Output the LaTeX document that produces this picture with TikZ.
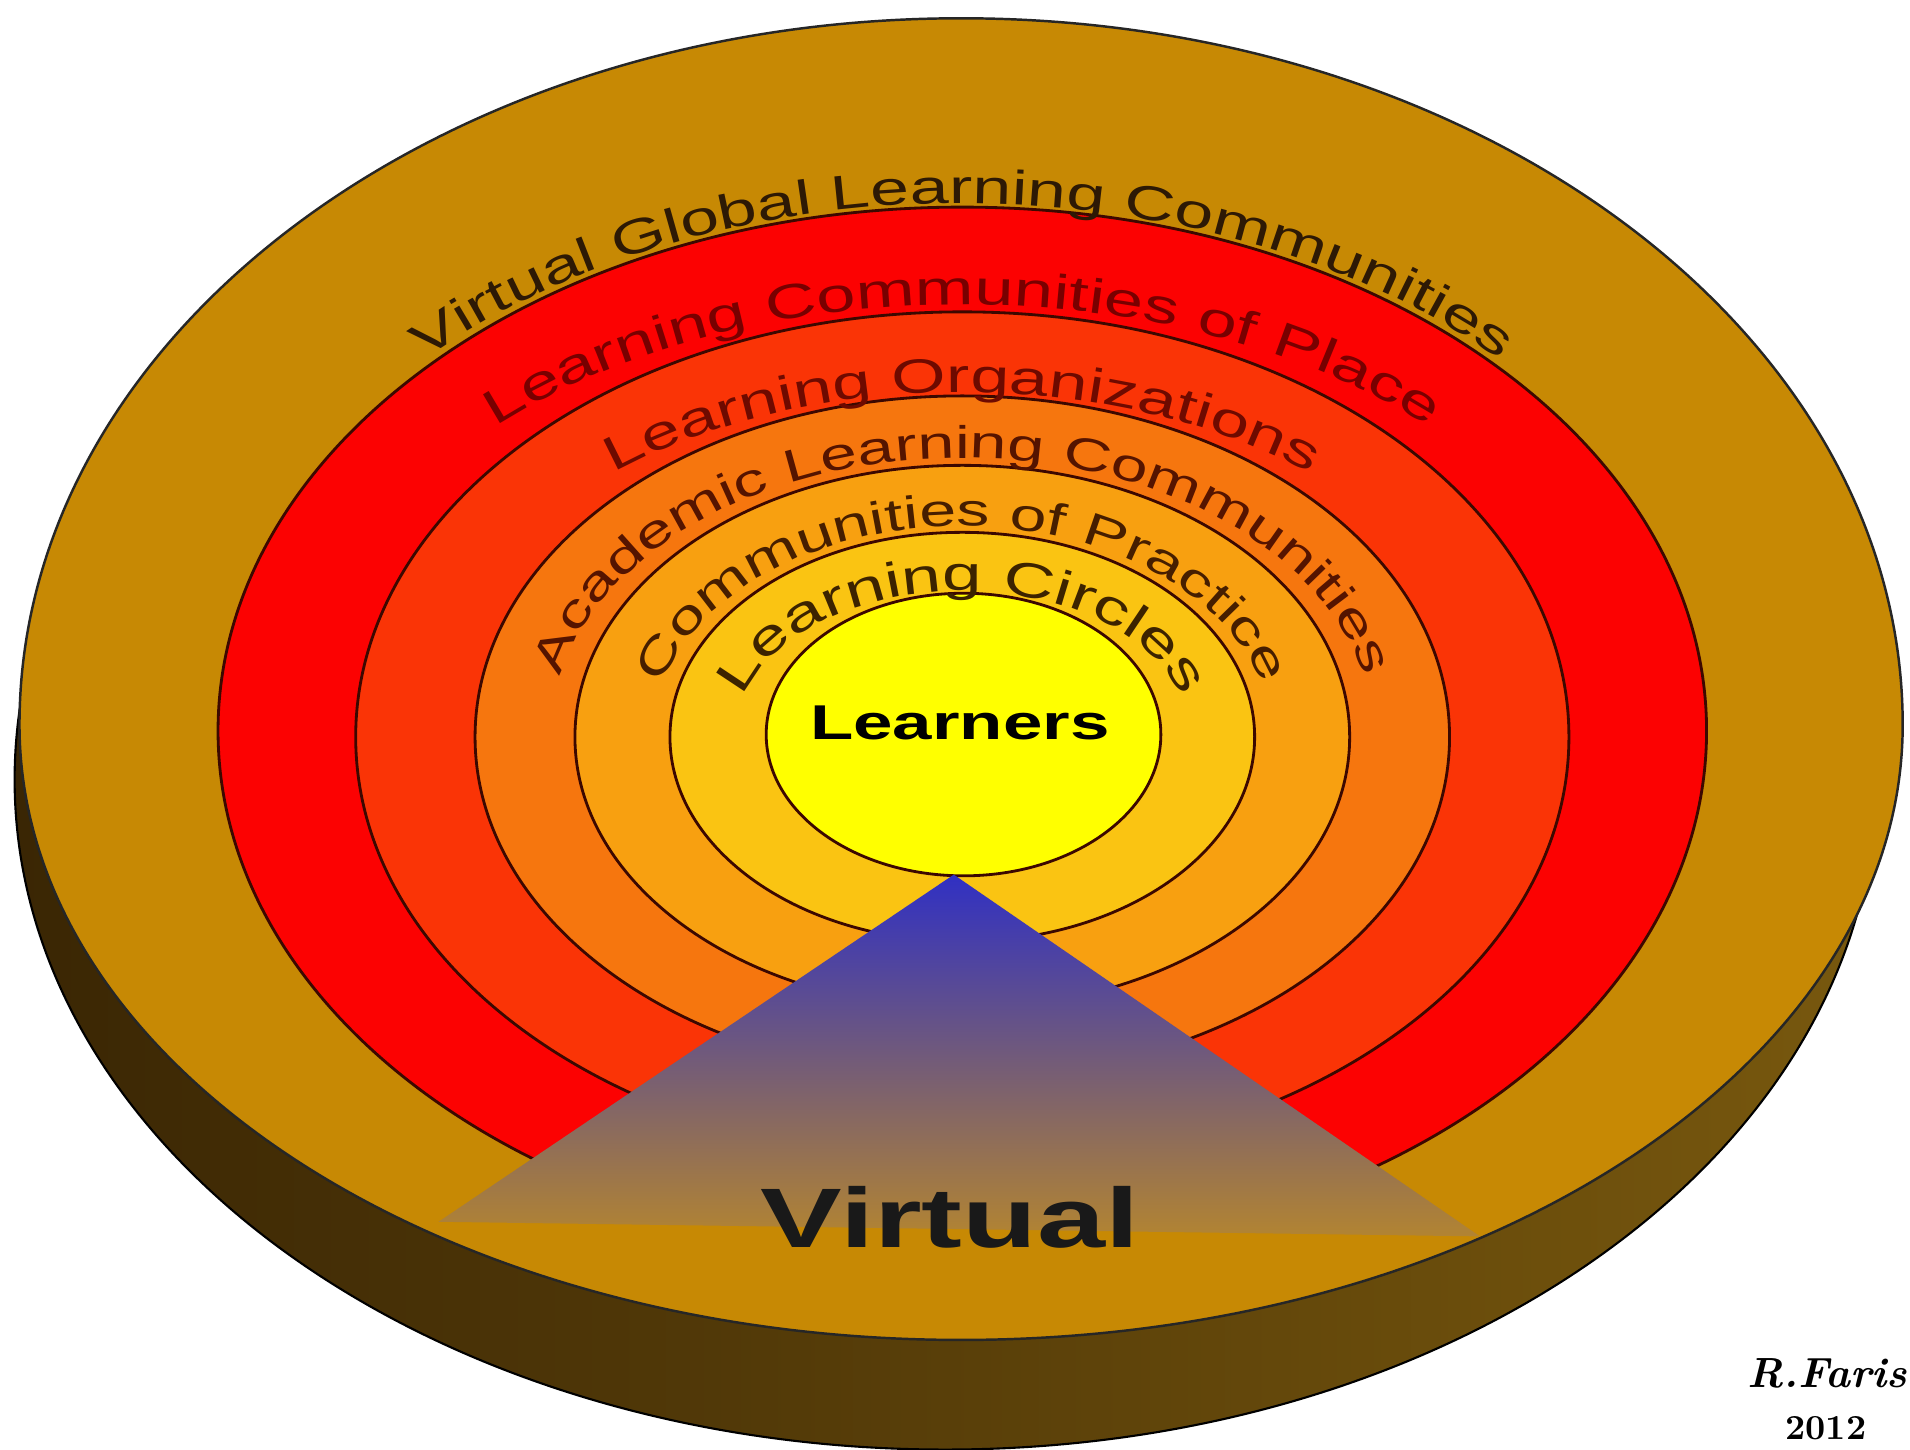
\documentclass[tikz,border=0pt]{standalone}
\usepackage{fontspec}
\usetikzlibrary{decorations.text}
\newfontfamily\ringfam[FakeStretch=1.45]{Liberation Sans}
\definecolor{facegold}{RGB}{199,137,4}
\definecolor{sidedark}{RGB}{58,38,4}
\definecolor{sidelight}{RGB}{120,88,14}
\definecolor{placered}{RGB}{252,2,2}
\definecolor{orgred}{RGB}{250,52,6}
\definecolor{acadorange}{RGB}{246,118,14}
\definecolor{practorange}{RGB}{248,160,16}
\definecolor{circleamber}{RGB}{250,196,18}
\definecolor{learnyellow}{RGB}{255,255,0}
\definecolor{virtblue}{RGB}{48,48,195}
\definecolor{virtmid}{RGB}{64,58,172}
\definecolor{virttan}{RGB}{178,132,50}
\definecolor{edgedark}{RGB}{60,8,0}
\definecolor{vglctext}{RGB}{45,25,5}
\definecolor{placetext}{RGB}{120,0,0}
\definecolor{orgtext}{RGB}{110,10,0}
\definecolor{acadtext}{RGB}{85,20,0}
\definecolor{practtext}{RGB}{70,30,0}
\definecolor{circletext}{RGB}{60,35,0}

\begin{document}
\begin{tikzpicture}[x=0.01218cm, y=0.01218cm,
    ringfill/.style={fill=#1, draw=edgedark, line width=0.8pt},
    ringtext/.style={decorate, decoration={text along path, text align=center, text={#1}}}
    ]
    \useasboundingbox[fill=white] (0,0) rectangle (1568,-1190);
    % disc side and top face
    \shade[left color=sidedark, right color=sidelight, draw=black, line width=0.6pt]
      (776,-640) ellipse [x radius=764, y radius=550];
    \filldraw[fill=facegold, draw=black!85, line width=0.7pt] (16,-595)
      arc[start angle=180, end angle=0, x radius=773, y radius=580]
      arc[start angle=0, end angle=-180, x radius=773, y radius=505] -- cycle;
    % rings
    \begin{scope}
      \clip (0,0) rectangle (1568,-1004);
      \path[ringfill=placered] (790,-600) ellipse [x radius=611, y radius=430];
      \path[ringfill=orgred] (790,-605) ellipse [x radius=498, y radius=349];
      \path[ringfill=acadorange] (790,-605) ellipse [x radius=400, y radius=280];
      \path[ringfill=practorange] (790,-605) ellipse [x radius=318, y radius=223];
      \path[ringfill=circleamber] (790,-605) ellipse [x radius=240, y radius=168];
      \path[ringfill=learnyellow] (791,-603) ellipse [x radius=162, y radius=116];
    \end{scope}
    % ring labels
    \path[ringtext={|\ringfam\fontsize{13.7}{16}\selectfont\color{vglctext}|Virtual Global Learning Communities}, shift={(790,-592)}]
      (175:617 and 425) arc[start angle=175, end angle=5, x radius=617, y radius=425];
    \path[ringtext={|\ringfam\fontsize{13.8}{16}\selectfont\color{placetext}|Learning Communities of Place}, shift={(790,-590)}]
      (175:540 and 340) arc[start angle=175, end angle=5, x radius=540, y radius=340];
    \path[ringtext={|\ringfam\fontsize{13.7}{16}\selectfont\color{orgtext}|Learning Organizations}, shift={(790,-595)}]
      (175:437 and 273) arc[start angle=175, end angle=5, x radius=437, y radius=273];
    \path[ringtext={|\ringfam\fontsize{13}{15}\selectfont\color{acadtext}|Academic Learning Communities}, shift={(790,-600)}]
      (179:336 and 224) arc[start angle=179, end angle=1, x radius=336, y radius=224];
    \path[ringtext={|\ringfam\fontsize{13}{15}\selectfont\color{practtext}|Communities of Practice}, shift={(790,-605)}]
      (179:254 and 173) arc[start angle=179, end angle=1, x radius=254, y radius=173];
    \path[ringtext={|\ringfam\fontsize{13.9}{16}\selectfont\color{circletext}|Learning Circles}, shift={(790,-605)}]
      (179:187 and 120) arc[start angle=179, end angle=1, x radius=187, y radius=120];
    % virtual wedge
    \shade[top color=virtblue, middle color=virtmid, bottom color=virttan]
      (783,-718) -- (1215,-1015) -- (360,-1003) -- cycle;
    \node[inner sep=0pt, anchor=base] (virtual) at (780,-1024)
      {\ringfam\bfseries\fontsize{24}{28}\selectfont\color{black!90}Virtual};
    \node[inner sep=0pt, anchor=base] (learners) at (788,-607)
      {\ringfam\bfseries\fontsize{13.9}{16}\selectfont Learners};
    \node[inner sep=0pt, anchor=base] (author) at (1500,-1139)
      {\bfseries\itshape\fontsize{12}{14}\selectfont R.Faris};
    \node[inner sep=0pt, anchor=base] (year) at (1499,-1182)
      {\bfseries\fontsize{10}{12}\selectfont 2012};
\end{tikzpicture}
\end{document}
